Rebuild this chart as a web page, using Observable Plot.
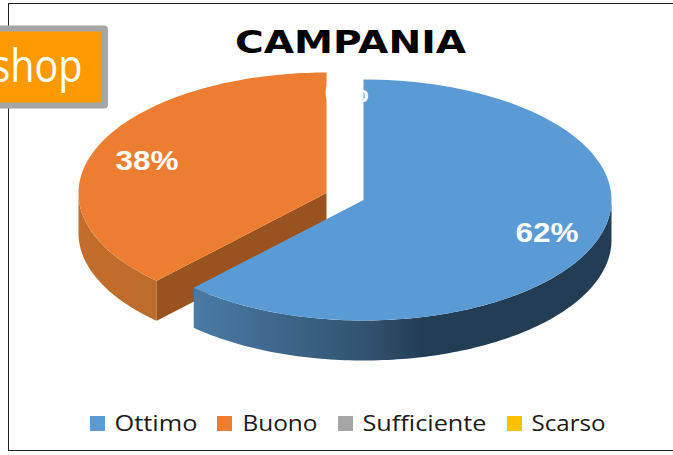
<!DOCTYPE html>
<html><head><meta charset="utf-8">
<script src="https://cdn.jsdelivr.net/npm/d3@7"></script>
<script src="https://cdn.jsdelivr.net/npm/@observablehq/plot@0.6"></script>
<style>html,body{margin:0;padding:0;background:#fff}#c{width:673px;height:455px;overflow:hidden}svg{display:block}</style>
</head><body><div id="c"></div>
<script>
const categories = ["Ottimo","Buono","Sufficiente","Scarso"];
const values = [62,38,0,0];
const colors = ["#5b9bd5","#ed7d31","#a5a5a5","#ffc000"];
const W=673,H=455;
const rx=248, ry=120.5, depth=40;
const centers=[[363,199.5],[326,192.5]];
const tot=d3.sum(values);
let acc=0;
const slices=values.map((v,i)=>{const a0=acc/tot*2*Math.PI;acc+=v;return {a0,a1:acc/tot*2*Math.PI,i};});
const pt=(i,a,dz=0)=>[centers[i][0]+rx*Math.sin(a),centers[i][1]-ry*Math.cos(a)+dz];
const arc=(i,a0,a1,dz=0,n=120)=>d3.range(n+1).map(k=>pt(i,a0+(a1-a0)*k/n,dz));
const topFace=s=>[centers[s.i],...arc(s.i,s.a0,s.a1),centers[s.i]];
const wall=(i,a0,a1)=>[...arc(i,a0,a1),...arc(i,a1,a0,depth)];
const poly=(pts,fill)=>Plot.line(pts,{x:d=>d[0],y:d=>d[1],fill,stroke:"none",curve:"linear"});
const [blue,orange]=slices;
const defs=()=>{const s=d3.create("svg:defs");
 const g=(id,stops)=>{const l=s.append("linearGradient").attr("id",id);stops.forEach(([o,c])=>l.append("stop").attr("offset",o).attr("stop-color",c));};
 g("bw",[[0,"#4a7ba6"],[0.42,"#31526f"],[0.55,"#233d54"],[1,"#233d54"]]);
 g("ow",[[0,"#c46d2b"],[1,"#bc6b2c"]]);
 return s.node();};
const labels=[{t:"38%",x:146.5,y:161,s:28,len:63},{t:"62%",x:546.5,y:233,s:28,len:63},{t:"0%",x:346,y:93,s:28,len:44}];
const titleRow=[{t:"CAMPANIA",x:350,y:42,s:32,len:231}];
const leg=[{t:"Ottimo",sx:90,x:114,len:83},{t:"Buono",sx:217,x:242,len:75},{t:"Sufficiente",sx:338,x:362,len:124},{t:"Scarso",sx:507,x:531,len:74}];
const badge=[{t:"shop",len:91}];
const plot=Plot.plot({width:W,height:H,margin:0,
 x:{domain:[0,W],range:[0,W],axis:null},y:{domain:[0,H],range:[0,H],axis:null},
 marks:[
  defs,
  Plot.rect([0],{x1:()=>8.5,x2:()=>690,y1:()=>3.5,y2:()=>450.5,fill:"none",stroke:"#222",strokeWidth:1}),
  poly(wall(1,orange.a0,3*Math.PI/2),"url(#ow)"),
  poly([centers[1],pt(1,orange.a0),pt(1,orange.a0,depth),[centers[1][0],centers[1][1]+depth],centers[1]],"#9a521f"),
  poly(topFace(orange),colors[1]),
  poly(wall(0,Math.PI/2,blue.a1),"url(#bw)"),
  poly(topFace(blue),colors[0]),
  Plot.text(labels,{x:"x",y:"y",text:"t",fontSize:"s",fill:"white",fontWeight:"bold",fontFamily:"Liberation Sans"}),
  Plot.text(titleRow,{x:"x",y:"y",text:"t",fontSize:"s",fill:"black",fontWeight:"bold",fontFamily:"DejaVu Sans"}),
  Plot.rect(leg,{x1:"sx",x2:d=>d.sx+15,y1:()=>416,y2:()=>431,fill:(d,i)=>colors[i]}),
  Plot.text(leg,{x:"x",y:()=>423.5,text:"t",textAnchor:"start",fontSize:21,fill:"#1a1a1a",fontFamily:"Open Sans"}),
  Plot.rect([0],{x1:()=>-10,x2:()=>105,y1:()=>28.5,y2:()=>105.5,fill:"#ff9900",stroke:"#a5a5a5",strokeWidth:6,rx:1}),
  Plot.text(badge,{x:()=>82,y:()=>67,text:"t",textAnchor:"end",fontSize:45,fill:"white",fontFamily:"Open Sans"})
 ]});
document.getElementById("c").append(plot);
const byText=new Map([...labels,...titleRow,...leg,...badge].map(d=>[d.t,d.len]));
plot.querySelectorAll("text").forEach(t=>{const n=byText.get(t.textContent);if(n){t.setAttribute("textLength",n);t.setAttribute("lengthAdjust","spacingAndGlyphs");}});
</script></body></html>
